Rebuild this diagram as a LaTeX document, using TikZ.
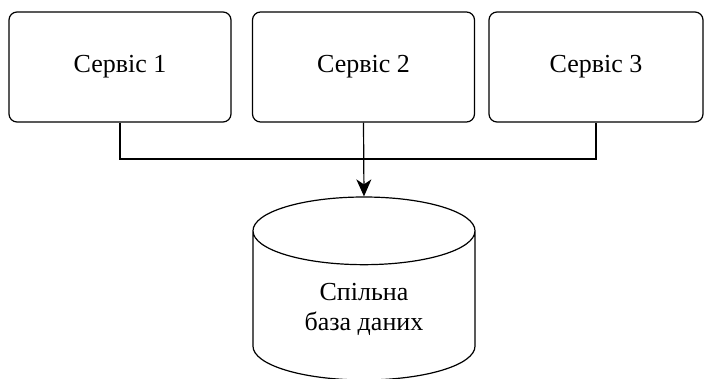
\documentclass[tikz,border=0pt]{standalone}
\usepackage{fontspec}
\newfontfamily\timesfont{Liberation Serif}
\usepackage{tikz}
\usetikzlibrary{shapes.geometric,arrows.meta}

\begin{document}
\begin{tikzpicture}[x=1pt,y=-1pt,line width=1.2pt]
        \tikzstyle{every node}=[draw,line width=1.2pt,align=center,font=\timesfont\fontsize{26}{30}\selectfont]
        \tikzstyle{service}=[rectangle,rounded corners=8pt,minimum width=222pt,minimum height=110pt]
            \useasboundingbox (0,0) rectangle (705,379);

            \node[service] (s1) at (120,67) {Сервіс 1};
            \node[service] (s2) at (363.5,67) {Сервіс 2};
            \node[service,minimum width=214pt] (s3) at (596,67) {Сервіс 3};

            \node[cylinder,shape border rotate=90,aspect=0.54,minimum width=222pt,minimum height=183pt,anchor=shape center] (db) at (364,288.5) {Спільна\\база даних};

            \coordinate (j) at (364,159);

            \draw (s1.south) |- (j) -| (s3.south)
            (s2.south) edge [-{Stealth[length=17pt,width=15pt,inset=5pt]}] (db.north);
        \end{tikzpicture}
\end{document}
